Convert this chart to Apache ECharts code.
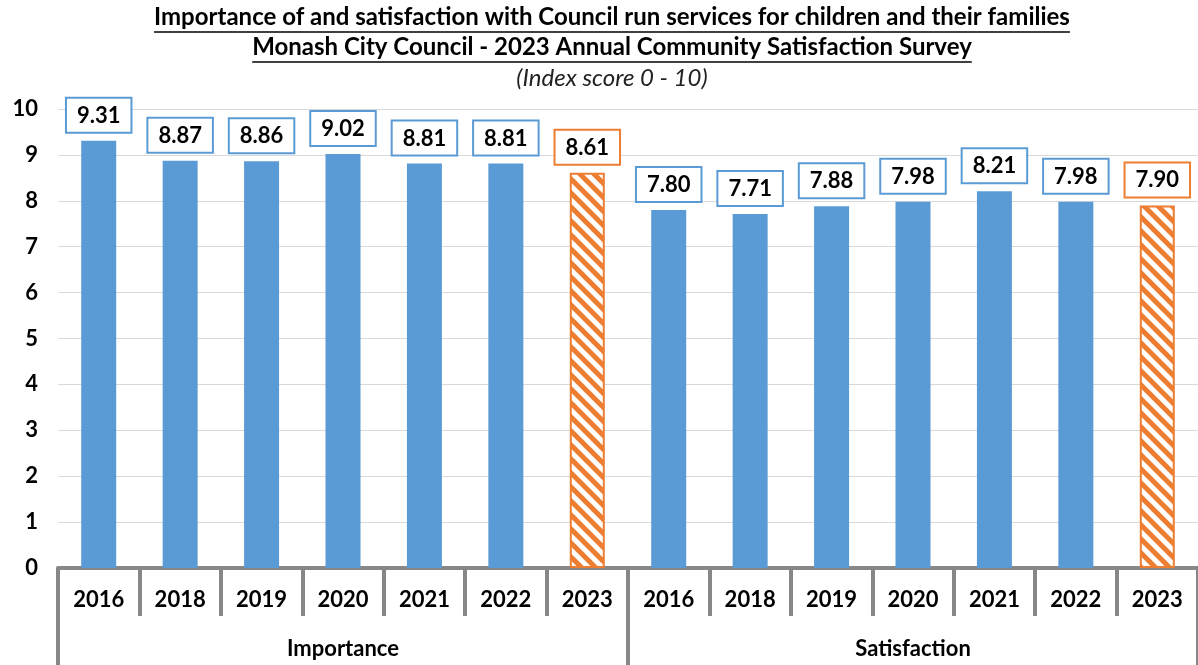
<!DOCTYPE html>
<html><head><meta charset="utf-8">
<script src="https://cdn.jsdelivr.net/npm/echarts@6/dist/echarts.min.js"></script>
<style>html,body{margin:0;padding:0;background:#fff}#c{width:1198px;height:665px}</style>
</head><body><div id="c"></div>
<script>
const years = ['2016','2018','2019','2020','2021','2022','2023'];
const groups = ['Importance','Satisfaction'];
const importance = [9.31, 8.87, 8.86, 9.02, 8.81, 8.81, 8.61];
const satisfaction = [7.80, 7.71, 7.88, 7.98, 8.21, 7.98, 7.90];
const yTicks = [0,1,2,3,4,5,6,7,8,9,10];
const titleLines = ['Importance of and satisfaction with Council run services for children and their families','Monash City Council - 2023 Annual Community Satisfaction Survey'];
const subtitle = '(Index score 0 - 10)';

const BLUE='#5b9bd5', ORANGE='#ed7d31', GRAY='#878787';
const FONT='Lato, "Open Sans", sans-serif';

function hatch(){
  const s=14, c=document.createElement('canvas'); c.width=s; c.height=s;
  const ctx=c.getContext('2d'); ctx.fillStyle='#fff'; ctx.fillRect(0,0,s,s);
  ctx.strokeStyle=ORANGE; ctx.lineWidth=5; ctx.beginPath();
  for(let k=-1;k<=1;k++){ctx.moveTo(k*s-2,-2);ctx.lineTo(k*s+s+2,s+2);}
  ctx.stroke(); return c;
}
const pattern={image:hatch(),repeat:'repeat'};

const cats=[], vals=[];
[importance,satisfaction].forEach((arr)=>{arr.forEach((v,i)=>{
  cats.push(years[i]);
  const last=i===arr.length-1;
  vals.push({value:v,
    itemStyle: last?{color:pattern,borderColor:ORANGE,borderWidth:2}:{color:BLUE},
    label:{borderColor:last?ORANGE:BLUE}});
});});

function measure(t,font){const ctx=document.createElement('canvas').getContext('2d');ctx.font=font;return ctx.measureText(t).width;}
const tFont='bold 24px '+FONT;
const graphics=[];
const cx=612;
titleLines.forEach((t,i)=>{
  const w=measure(t,tFont), y=5+i*30;
  graphics.push({type:'text',x:cx,y:y,style:{text:t,font:tFont,fill:'#000',align:'center',verticalAlign:'top'}});
  graphics.push({type:'line',shape:{x1:cx-w/2,y1:y+27,x2:cx+w/2,y2:y+27},style:{stroke:'#000',lineWidth:1.5}});
});
graphics.push({type:'text',x:cx,y:66,style:{text:subtitle,font:'italic 24px '+FONT,fill:'#222',align:'center',verticalAlign:'top'}});

const chart=echarts.init(document.getElementById('c'));
chart.setOption({
  animation:false,
  grid:{left:58,right:0,top:109,bottom:97,containLabel:false},
  graphic:graphics,
  xAxis:[{type:'category',data:cats,position:'bottom',
    axisLine:{lineStyle:{color:GRAY,width:4}},
    axisTick:{show:true,interval:0,length:48,lineStyle:{color:GRAY,width:4}},
    axisLabel:{interval:0,margin:21,color:'#000',fontWeight:'bold',fontSize:22,fontFamily:FONT}},
   {type:'category',data:groups,position:'bottom',offset:48,
    axisLine:{show:false},
    axisTick:{show:true,length:50,lineStyle:{color:GRAY,width:4}},
    axisLabel:{margin:22,color:'#000',fontWeight:'bold',fontSize:22,fontFamily:FONT}}],
  yAxis:{type:'value',min:yTicks[0],max:yTicks[yTicks.length-1],interval:1,
    axisLine:{show:false},axisTick:{show:false},
    splitLine:{lineStyle:{color:'#d9d9d9',width:1}},
    axisLabel:{margin:20,color:'#000',fontWeight:'bold',fontSize:22,fontFamily:FONT}},
  series:[{type:'bar',xAxisIndex:0,data:vals,barWidth:35,
    label:{show:true,position:'top',distance:9,formatter:p=>p.value.toFixed(2),
      color:'#000',fontWeight:'bold',fontSize:22,fontFamily:FONT,
      backgroundColor:'#fff',borderWidth:2,padding:[6,10,5,10]}}]
});
</script></body></html>
